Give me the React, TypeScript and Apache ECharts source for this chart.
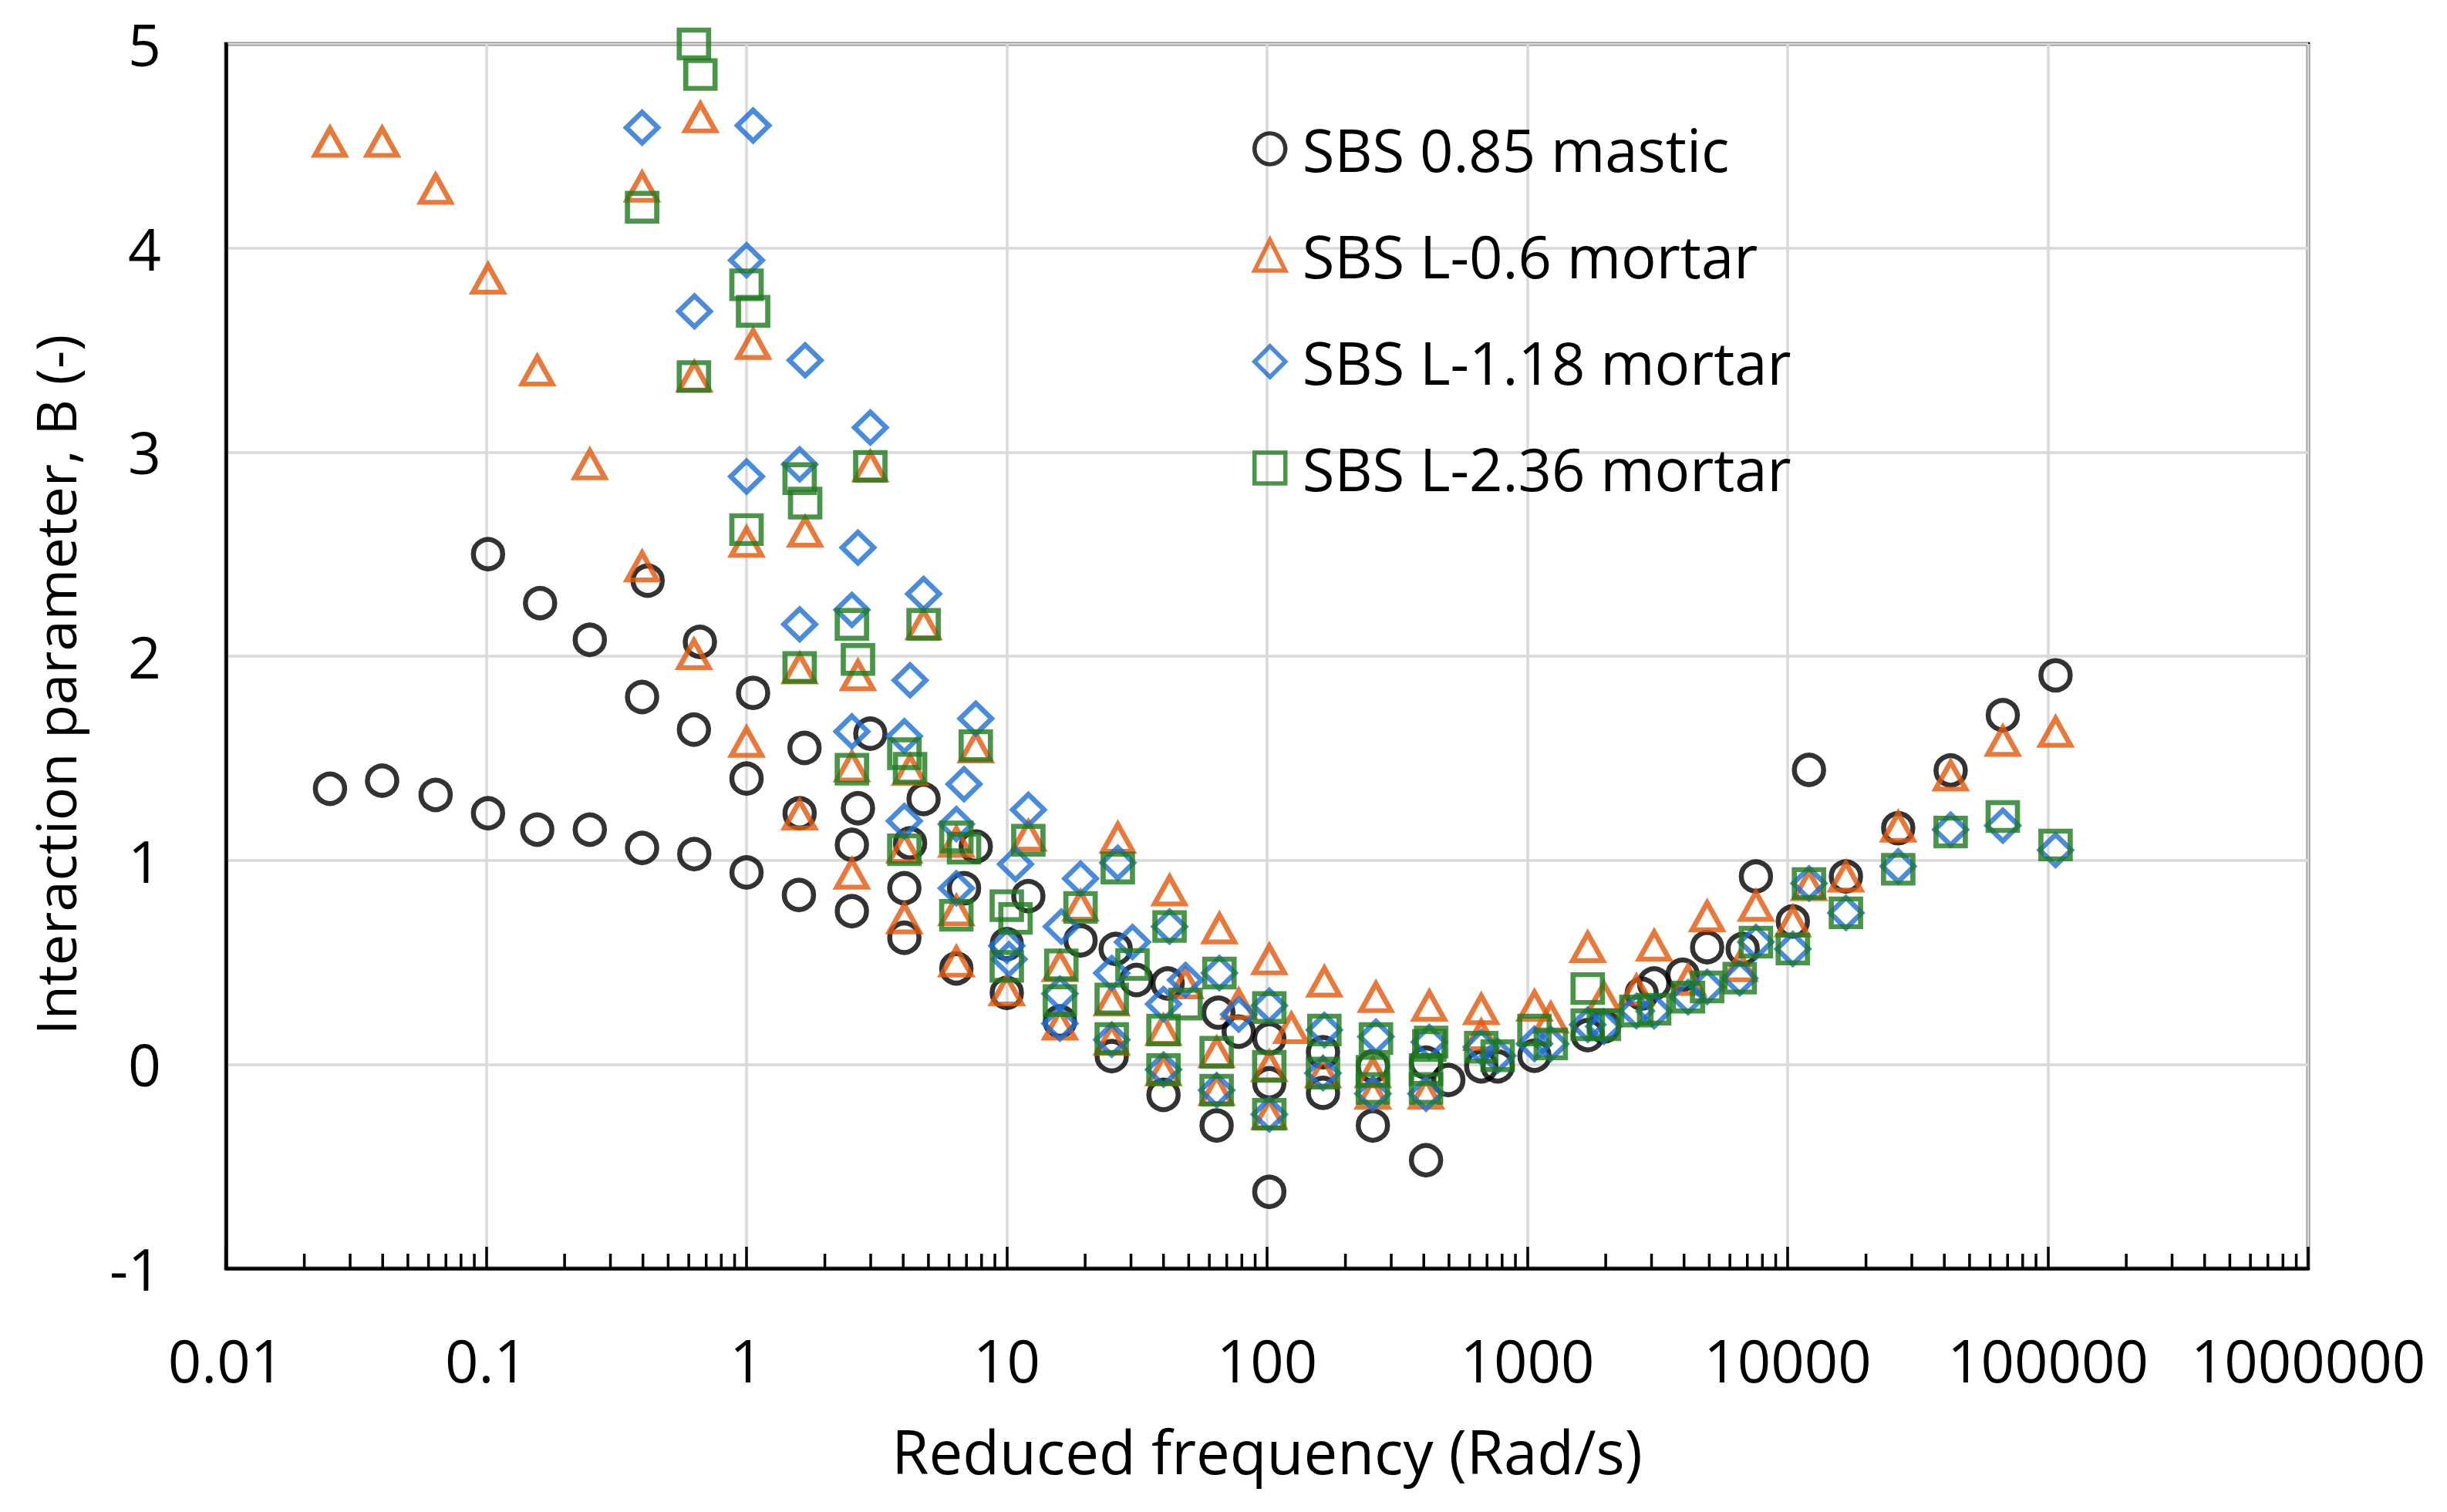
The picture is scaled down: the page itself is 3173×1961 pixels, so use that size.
import React, { useEffect, useRef } from "react";
import * as echarts from "echarts";

// ---------- data (reduced frequency [rad/s], interaction parameter B) ----------
const MASTIC: [number, number][] = [
  [0.0251, 1.35], [0.0398, 1.39], [0.0639, 1.32], [0.1016, 1.23], [0.157, 1.15], [0.25, 1.15],
  [0.397, 1.06], [0.63, 1.03], [1.0, 0.94], [1.59, 0.83], [2.54, 0.75], [4.04, 0.62], [6.4, 0.47],
  [10, 0.35], [16, 0.21], [25.3, 0.04], [40, -0.15], [64, -0.3], [102, -0.625], [164, -0.14],
  [255, -0.3], [408, -0.47],
  [0.1016, 2.5], [0.161, 2.26], [0.25, 2.08], [0.417, 2.37], [0.397, 1.8], [0.662, 2.07], [0.628, 1.64],
  [1.06, 1.82], [1.0, 1.4], [1.67, 1.55], [1.6, 1.23], [2.99, 1.62], [2.68, 1.255], [2.54, 1.075],
  [4.79, 1.3], [4.25, 1.083], [4.04, 0.863], [7.6, 1.067], [6.85, 0.863], [12.1, 0.824], [10, 0.589],
  [19.2, 0.607], [26.2, 0.565], [31.5, 0.413], [41.5, 0.396], [65, 0.253], [77.8, 0.16], [102, 0.126],
  [102, -0.093], [164, 0.059], [255, -0.01], [408, 0.008], [497, -0.077], [665, -0.01], [769, -0.01],
  [1065, 0.042], [1706, 0.143], [1968, 0.185], [2750, 0.346], [3070, 0.396], [3950, 0.439],
  [4906, 0.574], [6720, 0.565], [7554, 0.92], [10470, 0.7], [12080, 1.443], [16750, 0.92],
  [26600, 1.157], [42300, 1.44], [67100, 1.711], [107000, 1.906],
];

const MORTAR_06: [number, number][] = [
  [0.0251, 4.52], [0.0398, 4.52], [0.0639, 4.29], [0.1016, 3.85], [0.157, 3.4], [0.25, 2.94],
  [0.397, 2.44], [0.397, 4.3], [0.665, 4.64], [0.63, 3.37], [0.628, 2.01], [1.06, 3.53], [1.0, 2.56],
  [1.68, 2.61], [1.6, 1.94], [1.0, 1.58], [1.6, 1.224], [2.99, 2.93], [2.68, 1.906], [2.54, 1.459],
  [2.54, 0.934], [4.79, 2.156], [4.25, 1.443], [4.04, 1.06], [4.04, 0.715], [7.6, 1.553], [6.4, 1.09],
  [6.4, 0.754], [6.4, 0.503], [12.1, 1.12], [19.2, 0.777], [10, 0.362], [26.7, 1.11], [42.2, 0.852],
  [65.6, 0.666], [102, 0.514], [166, 0.405], [262, 0.329], [420, 0.287], [665, 0.27], [1065, 0.287],
  [1706, 0.574], [3070, 0.582], [4906, 0.725], [7554, 0.776], [12080, 0.877], [16750, 0.92],
  [26600, 1.164], [42300, 1.415], [67100, 1.585], [107000, 1.629],
  [16, 0.48], [16, 0.194], [25.3, 0.312], [25.3, 0.12], [40, 0.168], [40, -0.03], [48.6, 0.396],
  [64, 0.059], [64, -0.127], [77.8, 0.295], [102, -0.01], [102, -0.245], [124, 0.177], [164, -0.04],
  [255, -0.04], [255, -0.144], [408, -0.144], [665, 0.143], [1230, 0.228], [1968, 0.329],
  [2624, 0.363], [4142, 0.413], [6545, 0.48], [10470, 0.7],
];

const MORTAR_118: [number, number][] = [
  [0.397, 4.59], [1.06, 4.6], [1.0, 3.94], [0.631, 3.69], [1.68, 3.45], [2.99, 3.12], [1.0, 2.88],
  [1.6, 2.94], [2.68, 2.532], [1.6, 2.156], [2.54, 2.227], [4.79, 2.305], [4.25, 1.882], [2.54, 1.631],
  [4.04, 1.608], [7.6, 1.694], [6.85, 1.373], [4.04, 1.192], [6.4, 1.177], [12.1, 1.247], [10.8, 0.981],
  [6.4, 0.863], [19.2, 0.91], [10, 0.58], [16.2, 0.675], [26.7, 0.987], [30.4, 0.599], [42.2, 0.675],
  [65.6, 0.447], [102, 0.287], [166, 0.168], [262, 0.135], [420, 0.109], [25.3, 0.447], [48.6, 0.413],
  [77.8, 0.244], [40, 0.295], [16, 0.346], [10.2, 0.515], [40, -0.026], [64, -0.127], [102, -0.245],
  [255, -0.144], [408, -0.144], [25.3, 0.12], [16, 0.2], [164, -0.043], [665, 0.084], [769, 0.042],
  [1065, 0.1], [1230, 0.1], [1706, 0.194], [1968, 0.185], [2624, 0.261], [3070, 0.26], [4142, 0.329],
  [4906, 0.379], [6545, 0.422], [7554, 0.599], [10470, 0.565], [12080, 0.886], [16750, 0.742],
  [26600, 0.97], [42300, 1.15], [67100, 1.17], [107000, 1.05],
];

const MORTAR_236: [number, number][] = [
  [0.628, 5.0], [0.665, 4.85], [0.397, 4.2], [1.0, 3.82], [1.06, 3.69], [0.628, 3.37], [1.6, 2.87],
  [1.68, 2.75], [2.99, 2.93], [1.0, 2.62], [1.6, 1.945], [2.54, 2.156], [2.68, 1.984], [4.79, 2.156],
  [2.54, 1.446], [4.04, 1.522], [4.25, 1.451], [7.6, 1.561], [4.04, 1.051], [6.4, 1.114], [6.85, 1.059],
  [12.1, 1.098], [6.4, 0.73], [10, 0.777], [10.8, 0.715], [19.2, 0.769], [10, 0.48], [16.2, 0.487],
  [26.7, 0.962], [25.3, 0.32], [42.2, 0.675], [65.6, 0.447], [102, 0.278], [166, 0.168], [262, 0.126],
  [420, 0.092], [16, 0.312], [25.3, 0.126], [30.4, 0.489], [40, 0.168], [40, -0.026], [48.6, 0.295],
  [64, 0.059], [64, -0.127], [102, -0.01], [102, -0.245], [164, -0.043], [255, -0.034], [255, -0.118],
  [408, -0.026], [408, -0.118], [427, 0.109], [665, 0.084], [769, 0.042], [1065, 0.168], [1230, 0.1],
  [1706, 0.371], [1706, 0.194], [1968, 0.194], [2624, 0.261], [3070, 0.27], [4142, 0.329],
  [4906, 0.379], [6545, 0.422], [7554, 0.599], [10470, 0.565], [12080, 0.886], [16750, 0.742],
  [26600, 0.956], [42300, 1.138], [67100, 1.214], [107000, 1.075],
];

const SERIES_NAMES = [
  "SBS 0.85 mastic",
  "SBS L-0.6 mortar",
  "SBS L-1.18 mortar",
  "SBS L-2.36 mortar",
];

// axis decoration
const X_DECADES = [0.01, 0.1, 1, 10, 100, 1000, 10000, 100000];
const MINOR_MULTIPLIERS = [2, 3, 4, 5, 6, 7, 8, 9];
const Y_MIN = -1;
const Y_MAX = 5;

const FONT = "'Open Sans', 'Noto Sans', sans-serif";

const minorTicks: number[][] = [];
X_DECADES.forEach((d) =>
  MINOR_MULTIPLIERS.forEach((m) => minorTicks.push([d * m, Y_MIN]))
);

function fmtLog(v: number): string {
  const e = Math.round(Math.log10(v));
  if (e < 0) return Math.pow(10, e).toFixed(-e);
  return String(Math.round(Math.pow(10, e)));
}

export default function App() {
  const ref = useRef<HTMLDivElement>(null);

  useEffect(() => {
    document.body.style.margin = "0";
    document.body.style.overflow = "hidden";
    if (!ref.current) return;
    const chart = echarts.init(ref.current, undefined, { renderer: "svg" });

    const hollow = (color: string) => ({
      color: "rgba(0,0,0,0)",
      borderColor: color,
      borderWidth: 6.5,
    });

    chart.setOption({
      animation: false,
      backgroundColor: "#ffffff",
      textStyle: { fontFamily: FONT },
      grid: {
        left: 293,
        right: 180,
        top: 57,
        bottom: 316,
        show: true,
        borderColor: "#000",
        borderWidth: 4.5,
        backgroundColor: "transparent",
      },
      legend: {
        data: SERIES_NAMES,
        orient: "vertical",
        left: 1619,
        top: 148,
        padding: 5,
        itemWidth: 40,
        itemHeight: 40,
        itemGap: 58,
        selectedMode: false,
        itemStyle: { borderWidth: 5.5 },
        textStyle: {
          fontFamily: FONT,
          fontSize: 76,
          color: "#000",
          lineHeight: 80,
          padding: [0, 0, 0, 17],
        },
      },
      xAxis: {
        type: "log",
        logBase: 10,
        min: 0.01,
        max: 1000000,
        splitNumber: 8,
        name: "Reduced frequency (Rad/s)",
        nameLocation: "middle",
        nameGap: 198,
        nameTextStyle: { fontFamily: FONT, fontSize: 78, color: "#000" },
        axisLine: { show: true, onZero: false, lineStyle: { color: "#000", width: 4.5 } },
        axisTick: {
          show: true,
          inside: true,
          length: 28,
          lineStyle: { color: "#000", width: 3.5 },
        },
        axisLabel: {
          fontFamily: FONT,
          fontSize: 76,
          color: "#000",
          margin: 80,
          formatter: (v: number) => fmtLog(v),
        },
        splitLine: { show: true, lineStyle: { color: "#d9d9d9", width: 3.5 } },
      },
      yAxis: {
        type: "value",
        min: Y_MIN,
        max: Y_MAX,
        interval: 1,
        axisLine: { show: true, onZero: false, lineStyle: { color: "#000", width: 4.5 } },
        axisTick: { show: false },
        axisLabel: {
          fontFamily: FONT,
          fontSize: 75,
          color: "#000",
          margin: 84,
        },
        splitLine: { show: true, lineStyle: { color: "#d9d9d9", width: 3.5 } },
      },
      graphic: [
        {
          type: "text",
          x: 71,
          y: 888,
          rotation: Math.PI / 2,
          silent: true,
          style: {
            text: "Interaction parameter, B (-)",
            fontFamily: FONT,
            fontSize: 72,
            fill: "#000",
            align: "center",
            verticalAlign: "middle",
          },
        },
      ],
      series: [
        {
          name: "minor ticks",
          type: "custom",
          silent: true,
          z: 3,
          clip: false,
          data: minorTicks,
          encode: { x: 0, y: 1 },
          renderItem: (_params: any, api: any) => {
            const p = api.coord([api.value(0), api.value(1)]);
            return {
              type: "line",
              shape: { x1: p[0], y1: p[1], x2: p[0], y2: p[1] - 19 },
              style: { stroke: "#000", lineWidth: 3.5 },
            };
          },
        },
        {
          name: SERIES_NAMES[0],
          type: "scatter",
          data: MASTIC,
          symbol: "circle",
          symbolSize: 38,
          itemStyle: hollow("#000000"),
          emphasis: { disabled: true },
          silent: true,
        },
        {
          name: SERIES_NAMES[1],
          type: "scatter",
          data: MORTAR_06,
          symbol: "triangle",
          symbolSize: [39, 35],
          itemStyle: hollow("#E2570A"),
          emphasis: { disabled: true },
          silent: true,
        },
        {
          name: SERIES_NAMES[2],
          type: "scatter",
          data: MORTAR_118,
          symbol: "diamond",
          symbolSize: [41, 40],
          itemStyle: hollow("#1C6ED4"),
          emphasis: { disabled: true },
          silent: true,
        },
        {
          name: SERIES_NAMES[3],
          type: "scatter",
          data: MORTAR_236,
          symbol: "rect",
          symbolSize: [38, 36],
          itemStyle: hollow("#1E7B1E"),
          emphasis: { disabled: true },
          silent: true,
        },
      ],
    });

    return () => chart.dispose();
  }, []);

  return <div ref={ref} style={{ width: 3173, height: 1961 }} />;
}
